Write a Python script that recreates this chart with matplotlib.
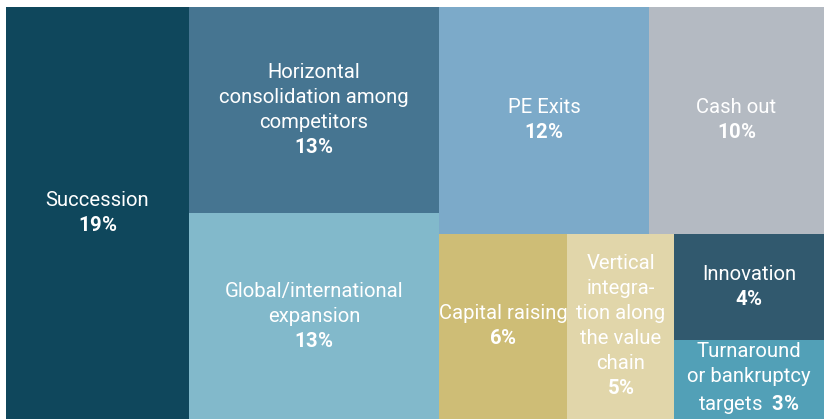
import matplotlib
matplotlib.use("Agg")
import matplotlib.pyplot as plt
from matplotlib.patches import Rectangle

plt.rcParams['font.family'] = ['Roboto', 'DejaVu Sans']
plt.rcParams['mathtext.fontset'] = 'custom'
plt.rcParams['mathtext.rm'] = 'Roboto'
plt.rcParams['mathtext.bf'] = 'Roboto:bold'

# ---- data ----
categories = ["Succession",
              "Horizontal\nconsolidation among\ncompetitors",
              "Global/international\nexpansion",
              "PE Exits",
              "Cash out",
              "Capital raising",
              "Vertical\nintegra-\ntion along\nthe value\nchain",
              "Innovation",
              "Turnaround\nor bankruptcy\ntargets"]
values = [19, 13, 13, 12, 10, 6, 5, 4, 3]
inline_pct = [False, False, False, False, False, False, False, False, True]
colors = ["#0F475C", "#467591", "#82B9CB", "#7CAAC9", "#B4BAC2",
          "#CEBD76", "#E1D6AA", "#31596E", "#52A0B7"]

# layout structure: 'h' = side by side, 'v' = stacked (top to bottom)
structure = ("h", [0, ("v", [1, 2]),
                   ("v", [("h", [3, 4]),
                          ("h", [5, 6, ("v", [7, 8])])])])


def node_sum(node):
    if isinstance(node, int):
        return values[node]
    return sum(node_sum(c) for c in node[1])


def layout(node, x, y, w, h, out):
    if isinstance(node, int):
        out[node] = (x, y, w, h)
        return
    kind, children = node
    total = node_sum(node)
    pos = 0.0
    for c in children:
        frac = node_sum(c) / total
        if kind == "h":
            layout(c, x + pos * w, y, w * frac, h, out)
        else:
            layout(c, x, y + pos * h, w, h * frac, out)
        pos += frac


rects = {}
layout(structure, 0.0, 0.0, 1.0, 1.0, rects)

fig = plt.figure(figsize=(8.24, 4.19), dpi=100)
ax = fig.add_axes([6 / 824, 0, 1 - 6 / 824, (419 - 7) / 419])
ax.set_xlim(0, 1)
ax.set_ylim(1, 0)
ax.axis("off")

for i, (lab, v) in enumerate(zip(categories, values)):
    x, y, w, h = rects[i]
    ax.add_patch(Rectangle((x, y), w, h, facecolor=colors[i], edgecolor="none"))
    pct = r"$\mathbf{%d\%%}$" % v
    if inline_pct[i]:
        txt = lab + "  " + pct
    else:
        txt = lab + "\n" + pct
    ax.text(x + w / 2, y + h / 2, txt, ha="center", va="center",
            color="white", fontsize=14.6, linespacing=1.4,
            multialignment="center")

fig.savefig("out.png", dpi=100)
